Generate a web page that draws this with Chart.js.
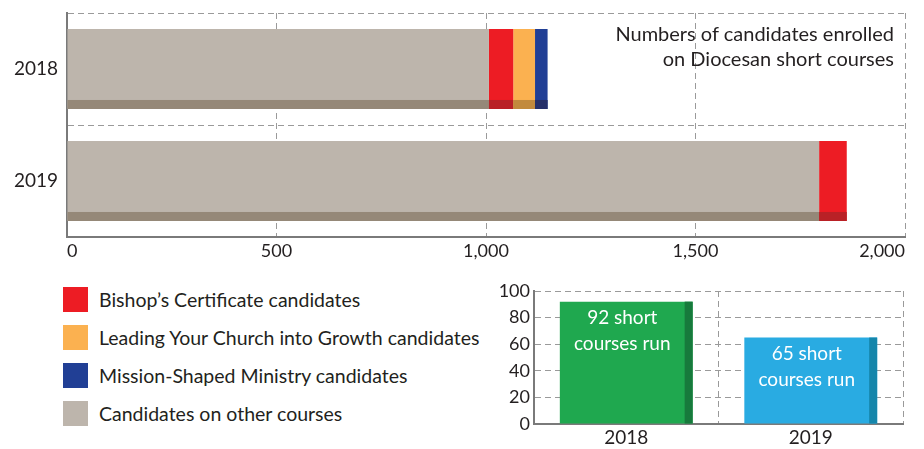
<!DOCTYPE html>
<html lang="en">
<head>
<meta charset="UTF-8">
<title>Diocesan short courses</title>
<script src="https://cdn.jsdelivr.net/npm/chart.js"></script>
<style>
    body { margin: 0; background: #fff; font-family: Lato, sans-serif; color: #231f20; }
    #wrap { position: relative; width: 924px; height: 449px; overflow: hidden; }
    #top-chart { position: absolute; left: 0; top: 0; }
    #course-chart { position: absolute; left: 480px; top: 270px; }
    #title {
        position: absolute; right: 30px; top: 21px;
        font-size: 20px; line-height: 25px; text-align: right;
    }
    #legend { position: absolute; left: 63px; top: 280px; }
    .legend-row { display: flex; align-items: center; height: 38px; font-size: 19.5px; }
    .legend-box { width: 25px; height: 25px; margin-right: 11px; }
</style>
</head>
<body>
<div id="wrap">
    <canvas id="top-chart" width="924" height="262"></canvas>
    <div id="title">Numbers of candidates enrolled<br>on Diocesan short courses</div>
    <div id="legend"></div>
    <canvas id="course-chart" width="444" height="179"></canvas>
</div>
<script>
    // Werte
    var years = ['2018', '2019'];
    var otherCourses = [1007, 1795];
    var bishopsCert = [58, 66];
    var leadingGrowth = [52, 0];
    var missionShaped = [30, 0];
    var coursesRun = [92, 65];

    var xTicks = [0, 500, 1000, 1500, 2000];

    var gridColor = '#9a9a9a';
    var axisColor = '#7a7a7a';
    var textColor = '#231f20';

    Chart.defaults.font.family = 'Lato, sans-serif';
    Chart.defaults.color = textColor;

    // dunkler Streifen an den Balken (3D-Effekt)
    var shadePlugin = {
        id: 'shade',
        afterDatasetsDraw: function (chart, args, opts) {
            var ctx = chart.ctx;
            chart.data.datasets.forEach(function (ds, i) {
                var meta = chart.getDatasetMeta(i);
                meta.data.forEach(function (el, j) {
                    var p = el.getProps(['x', 'y', 'base', 'width', 'height'], true);
                    var col = Array.isArray(ds.shadeColor) ? ds.shadeColor[j] : ds.shadeColor;
                    ctx.save();
                    ctx.fillStyle = col;
                    if (opts.side === 'bottom') {
                        var left = Math.min(p.base, p.x);
                        ctx.fillRect(left, p.y + p.height / 2 - opts.size, Math.abs(p.x - p.base), opts.size);
                    } else {
                        var top = Math.min(p.base, p.y);
                        ctx.fillRect(p.x + p.width / 2 - opts.size, top, opts.size, Math.abs(p.base - p.y));
                    }
                    ctx.restore();
                });
            });
        }
    };

    // Beschriftung in den Balken
    var barTextPlugin = {
        id: 'barText',
        afterDatasetsDraw: function (chart, args, opts) {
            if (!opts.enabled) return;
            var ctx = chart.ctx;
            var ds = chart.data.datasets[0];
            chart.getDatasetMeta(0).data.forEach(function (el, j) {
                var p = el.getProps(['x', 'y', 'width'], true);
                var cx = p.x - opts.shift;
                ctx.save();
                ctx.fillStyle = '#ffffff';
                ctx.font = '19px Lato, sans-serif';
                ctx.textAlign = 'center';
                ctx.textBaseline = 'middle';
                ctx.fillText(ds.data[j] + ' short', cx, p.y + 16);
                ctx.fillText('courses run', cx, p.y + 42);
                ctx.restore();
            });
        }
    };

    function fitWidth(w) {
        return function (scale) { scale.width = w; scale.paddingTop = 0; scale.paddingBottom = 0; };
    }
    function fitHeight(h) {
        return function (scale) { scale.height = h; scale.paddingLeft = 0; scale.paddingRight = 0; };
    }

    // Oberes Diagramm: Teilnehmer
    var ctxTop = document.getElementById('top-chart').getContext('2d');
    var topChart = new Chart(ctxTop, {
        type: 'bar',
        data: {
            labels: years,
            datasets: [
                { label: 'Candidates on other courses', data: otherCourses, backgroundColor: '#bdb5ac', shadeColor: '#958878' },
                { label: 'Bishop\u2019s Certificate candidates', data: bishopsCert, backgroundColor: '#ed1c24', shadeColor: '#b92126' },
                { label: 'Leading Your Church into Growth candidates', data: leadingGrowth, backgroundColor: '#fbb150', shadeColor: '#c28a3d' },
                { label: 'Mission-Shaped Ministry candidates', data: missionShaped, backgroundColor: '#213f95', shadeColor: '#26306a' }
            ]
        },
        options: {
            indexAxis: 'y',
            responsive: false,
            animation: false,
            layout: { padding: { top: 13, right: 19, left: 0, bottom: 0 } },
            datasets: { bar: { categoryPercentage: 1, barPercentage: 0.714 } },
            plugins: {
                legend: { display: false },
                tooltip: { enabled: false },
                shade: { side: 'bottom', size: 9 },
                barText: { enabled: false }
            },
            scales: {
                x: {
                    stacked: true,
                    min: 0,
                    max: 2000,
                    afterFit: fitHeight(25),
                    afterBuildTicks: function (scale) {
                        scale.ticks = xTicks.map(function (v) { return { value: v }; });
                    },
                    ticks: {
                        padding: 3,
                        align: 'inner',
                        font: { size: 18 },
                        callback: function (v) { return v.toLocaleString('en-GB'); }
                    },
                    grid: { color: gridColor, lineWidth: 1, drawTicks: false },
                    border: { display: true, color: axisColor, width: 2, dash: [6, 4] }
                },
                y: {
                    stacked: true,
                    afterFit: fitWidth(67),
                    ticks: { padding: 9, font: { size: 19 } },
                    grid: { offset: true, color: gridColor, lineWidth: 1, drawTicks: false },
                    border: { display: true, color: axisColor, width: 2, dash: [6, 4] }
                }
            }
        },
        plugins: [shadePlugin, barTextPlugin]
    });

    // Legende
    var legendOrder = [1, 2, 3, 0];
    var legendEl = document.getElementById('legend');
    legendOrder.forEach(function (i) {
        var ds = topChart.data.datasets[i];
        var row = document.createElement('div');
        row.className = 'legend-row';
        row.innerHTML = '<span class="legend-box" style="background:' + ds.backgroundColor + '"></span>' + ds.label;
        legendEl.appendChild(row);
    });

    // Unteres Diagramm: Anzahl Kurse
    var ctxCourse = document.getElementById('course-chart').getContext('2d');
    new Chart(ctxCourse, {
        type: 'bar',
        data: {
            labels: years,
            datasets: [{
                label: 'Short courses run',
                data: coursesRun,
                backgroundColor: ['#1fa84f', '#29abe2'],
                shadeColor: ['#177a3c', '#1586ab']
            }]
        },
        options: {
            responsive: false,
            animation: false,
            layout: { padding: { top: 21, right: 21, left: 0, bottom: 0 } },
            datasets: { bar: { categoryPercentage: 1, barPercentage: 0.72 } },
            plugins: {
                legend: { display: false },
                tooltip: { enabled: false },
                shade: { side: 'right', size: 8 },
                barText: { enabled: true, shift: 4 }
            },
            scales: {
                x: {
                    afterFit: fitHeight(25),
                    ticks: { padding: 2, font: { size: 19 } },
                    grid: { offset: true, color: gridColor, lineWidth: 1, drawTicks: false },
                    border: { display: true, color: axisColor, width: 2, dash: [6, 4] }
                },
                y: {
                    min: 0,
                    max: 100,
                    afterFit: function (scale) { scale.width = 54; },
                    ticks: { stepSize: 20, padding: 4, font: { size: 18 } },
                    grid: { color: gridColor, lineWidth: 1, drawTicks: false },
                    border: { display: true, color: axisColor, width: 2, dash: [6, 4] }
                }
            }
        },
        plugins: [shadePlugin, barTextPlugin]
    });
</script>
</body>
</html>
